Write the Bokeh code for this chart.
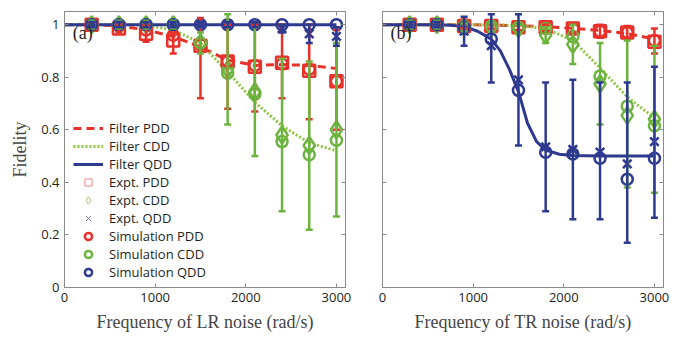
from bokeh.plotting import figure
from bokeh.models import (Whisker, TeeHead, Legend, LegendItem, Label, LinearAxis,
                          FixedTicker, CustomJSTickFormatter, Range1d, ColumnDataSource)
from bokeh.layouts import row
from bokeh.embed import file_html
from bokeh.resources import INLINE

# ---------------- data ----------------
x_expt = [300, 600, 900, 1200, 1500, 1800, 2100, 2400, 2700, 3000]

# panel (a): LR noise
lr_filter_x = [0, 300, 600, 900, 1200, 1500, 1800, 2100, 2400, 2700, 3000]
lr_filter_pdd = [1.0, 1.0, 0.995, 0.98, 0.955, 0.915, 0.865, 0.845, 0.848, 0.845, 0.833]
lr_filter_cdd = [1.0, 1.0, 1.0, 0.998, 0.98, 0.93, 0.82, 0.705, 0.615, 0.55, 0.52]
lr_filter_qdd = [1.0, 1.0, 1.0, 1.0, 1.0, 1.0, 1.0, 1.0, 1.0, 1.0, 1.0]

lr_expt_pdd = [1.0, 0.985, 0.965, 0.94, 0.92, 0.86, 0.84, 0.855, 0.825, 0.785]
lr_expt_pdd_lo = [0.99, 0.97, 0.935, 0.89, 0.72, 0.68, 0.67, 0.72, 0.64, 0.60]
lr_expt_pdd_hi = [1.01, 1.0, 0.995, 0.97, 1.025, 1.0, 1.0, 1.0, 1.0, 0.98]
lr_sim_pdd = [1.0, 0.995, 0.98, 0.96, 0.925, 0.86, 0.845, 0.85, 0.83, 0.785]

lr_expt_cdd = [1.0, 1.0, 1.0, 1.0, 0.93, 0.83, 0.745, 0.58, 0.54, 0.60]
lr_expt_cdd_lo = [0.985, 0.985, 0.985, 0.985, 0.89, 0.62, 0.50, 0.29, 0.22, 0.27]
lr_expt_cdd_hi = [1.015, 1.015, 1.015, 1.015, 0.97, 1.04, 0.99, 0.87, 0.86, 0.93]
lr_sim_cdd = [1.0, 1.0, 1.0, 1.0, 0.93, 0.815, 0.735, 0.555, 0.505, 0.56]

lr_expt_qdd = [1.0, 1.0, 1.0, 1.0, 1.0, 1.0, 1.0, 0.985, 0.965, 0.955]
lr_expt_qdd_lo = [0.99, 0.99, 0.99, 0.99, 0.99, 0.99, 0.99, 0.97, 0.93, 0.92]
lr_expt_qdd_hi = [1.01, 1.01, 1.01, 1.01, 1.01, 1.01, 1.01, 1.0, 1.0, 0.99]
lr_sim_qdd = [1.0, 1.0, 1.0, 1.0, 1.0, 1.0, 1.0, 1.0, 1.0, 1.0]

# panel (b): TR noise
tr_filter_x = [0, 300, 600, 900, 1200, 1500, 1800, 2100, 2400, 2700, 3000]
tr_filter_pdd = [1.0, 1.0, 1.0, 1.0, 0.998, 0.996, 0.992, 0.986, 0.978, 0.966, 0.945]
tr_filter_cdd = [1.0, 1.0, 1.0, 1.0, 0.999, 0.997, 0.985, 0.94, 0.835, 0.725, 0.645]
tr_filter_qdd_x = [0, 300, 600, 750, 900, 1050, 1200, 1300, 1400, 1500, 1600, 1700,
                   1800, 1950, 2100, 2400, 2700, 3000]
tr_filter_qdd = [1.0, 1.0, 1.0, 0.998, 0.993, 0.975, 0.945, 0.9, 0.83, 0.745, 0.625,
                 0.555, 0.523, 0.507, 0.502, 0.5, 0.5, 0.5]

tr_expt_pdd = [1.0, 1.0, 0.995, 0.995, 0.99, 0.99, 0.985, 0.975, 0.97, 0.935]
tr_expt_pdd_lo = [0.99, 0.99, 0.985, 0.985, 0.98, 0.975, 0.97, 0.95, 0.945, 0.89]
tr_expt_pdd_hi = [1.01, 1.01, 1.005, 1.005, 1.0, 1.0, 1.0, 1.0, 0.995, 0.985]
tr_sim_pdd = [1.0, 1.0, 1.0, 0.995, 0.99, 0.99, 0.985, 0.975, 0.97, 0.94]

tr_expt_cdd = [1.0, 1.0, 0.99, 0.99, 0.985, 0.96, 0.925, 0.775, 0.655, 0.64]
tr_expt_cdd_lo = [0.985, 0.985, 0.975, 0.975, 0.97, 0.93, 0.85, 0.62, 0.38, 0.36]
tr_expt_cdd_hi = [1.015, 1.015, 1.005, 1.005, 1.0, 0.99, 1.0, 0.93, 0.94, 0.92]
tr_sim_cdd = [1.0, 1.0, 0.995, 0.995, 0.99, 0.985, 0.955, 0.805, 0.69, 0.615]

tr_expt_qdd = [1.0, 1.0, 0.975, 0.92, 0.79, 0.535, 0.525, 0.515, 0.47, 0.555]
tr_expt_qdd_lo = [0.99, 0.99, 0.92, 0.78, 0.54, 0.29, 0.26, 0.26, 0.17, 0.265]
tr_expt_qdd_hi = [1.01, 1.01, 1.03, 1.04, 1.04, 0.78, 0.79, 0.78, 0.78, 0.84]
tr_sim_qdd = [1.0, 1.0, 0.99, 0.945, 0.75, 0.515, 0.508, 0.492, 0.412, 0.492]

x_ticks = [0, 1000, 2000, 3000]
y_ticks = [0, 0.2, 0.4, 0.6, 0.8, 1]
y_tick_labels = ["0", "0.2", "0.4", "0.6", "0.8", "1"]

legend_labels = ["Filter PDD", "Filter CDD", "Filter QDD", "Expt. PDD", "Expt. CDD",
                 "Expt. QDD", "Simulation PDD", "Simulation CDD", "Simulation QDD"]

# ---------------- style ----------------
RED = "#E8312B"
GREEN = "#6DB33F"
GREEN_F = "#8DC63F"
BLUE = "#2E3A8F"
AX = "#8a8a8a"
TICK_FONT = "Open Sans"
SERIF = "Liberation Serif"
NAN = float("nan")


def style_axis(ax, show_labels=True):
    ax.axis_line_color = AX
    ax.major_tick_line_color = AX
    ax.major_tick_in = 4
    ax.major_tick_out = 0
    ax.minor_tick_line_color = None
    ax.major_label_text_font = TICK_FONT
    ax.major_label_text_font_size = "13px"
    ax.major_label_text_color = "#231f20"
    if not show_labels:
        ax.formatter = CustomJSTickFormatter(code='return ""')
        ax.major_label_text_font_size = "0px"
        ax.major_label_standoff = 0


def make_panel(width, mb_left, mb_right, xlabel, show_ylabels):
    p = figure(width=width, height=334, output_backend="svg", toolbar_location=None,
               x_range=Range1d(0, 3100), y_range=Range1d(0, 1.05),
               min_border_left=mb_left, min_border_right=mb_right,
               min_border_top=11, min_border_bottom=43)
    p.xgrid.visible = False
    p.ygrid.visible = False
    p.outline_line_color = AX
    p.xaxis.ticker = FixedTicker(ticks=x_ticks)
    p.yaxis.ticker = FixedTicker(ticks=y_ticks)
    style_axis(p.xaxis[0])
    style_axis(p.yaxis[0], show_ylabels)
    if show_ylabels:
        p.yaxis.major_label_overrides = {t: s for t, s in zip(y_ticks, y_tick_labels)}
        p.yaxis.axis_label = "Fidelity"
        p.yaxis.axis_label_text_font = SERIF
        p.yaxis.axis_label_text_font_size = "18px"
        p.yaxis.axis_label_text_font_style = "normal"
        p.yaxis.axis_label_standoff = 8
    p.xaxis.axis_label = xlabel
    p.xaxis.axis_label_text_font = SERIF
    p.xaxis.axis_label_text_font_size = "18px"
    p.xaxis.axis_label_text_font_style = "normal"
    p.xaxis.axis_label_standoff = 7
    p.xaxis.major_label_standoff = 5
    top = LinearAxis(ticker=FixedTicker(ticks=x_ticks))
    style_axis(top, False)
    p.add_layout(top, "above")
    right = LinearAxis(ticker=FixedTicker(ticks=y_ticks))
    style_axis(right, False)
    p.add_layout(right, "right")
    return p


def draw(p, fx, fpdd, fcdd, fqx, fqdd, e, sims, legend=False):
    r_fp = p.line(fx, fpdd, line_color=RED, line_width=3, line_dash="8 5")
    r_fc = p.line(fx, fcdd, line_color=GREEN_F, line_width=3, line_dash="2 2")
    r_fq = p.line(fqx, fqdd, line_color=BLUE, line_width=3)
    markers = [("square", 12, RED), ("diamond", 17, GREEN), ("x", 12, BLUE)]
    for (vals, lo, hi), (mk, sz, col) in zip(e, markers):
        src = ColumnDataSource(dict(x=x_expt, y=vals, lo=lo, hi=hi))
        w = Whisker(base="x", lower="lo", upper="hi", source=src, line_color=col,
                    line_width=2.5, level="glyph",
                    upper_head=TeeHead(size=7, line_color=col, line_width=2.5),
                    lower_head=TeeHead(size=7, line_color=col, line_width=2.5))
        p.add_layout(w)
        p.scatter("x", "y", source=src, marker=mk, size=sz, line_color=col,
                  fill_color=None, line_width=2.5)
    sim_rs = []
    for vals, col in zip(sims, [RED, GREEN, BLUE]):
        r = p.scatter(x_expt, vals, marker="circle", size=11, line_color=col,
                      fill_color=None, line_width=2.5)
        sim_rs.append(r)
    if legend:
        # legend-only proxies (not drawn in the plot area)
        prox = [
            p.scatter([NAN], [NAN], marker="square", size=12, line_color="#F2877F", fill_color=None, line_width=1),
            p.scatter([NAN], [NAN], marker="diamond", size=17, line_color="#92C96E", fill_color=None, line_width=1),
            p.scatter([NAN], [NAN], marker="x", size=11, line_color="#7077B2", line_width=1),
        ]
        rs = [r_fp, r_fc, r_fq] + prox + sim_rs
        items = [LegendItem(label=lab, renderers=[r]) for lab, r in zip(legend_labels, rs)]
        lg = Legend(items=items, location=(9, 6), glyph_width=30, glyph_height=18,
                    label_height=18, spacing=0, padding=0, margin=0, label_standoff=6,
                    label_text_font=TICK_FONT, label_text_font_size="13px",
                    label_text_color="#231f20",
                    border_line_alpha=0, background_fill_alpha=0)
        p.add_layout(lg)


pa = make_panel(358, 64, 13, "Frequency of LR noise (rad/s)", True)
draw(pa, lr_filter_x, lr_filter_pdd, lr_filter_cdd, lr_filter_x, lr_filter_qdd,
     [(lr_expt_pdd, lr_expt_pdd_lo, lr_expt_pdd_hi),
      (lr_expt_cdd, lr_expt_cdd_lo, lr_expt_cdd_hi),
      (lr_expt_qdd, lr_expt_qdd_lo, lr_expt_qdd_hi)],
     [lr_sim_pdd, lr_sim_cdd, lr_sim_qdd], legend=True)
pa.add_layout(Label(x=90, y=0.968, text="(a)", text_font=SERIF, text_font_size="18px",
                    text_baseline="middle", text_color="#231f20"))

pb = make_panel(315, 24, 10, "Frequency of TR noise (rad/s)", False)
draw(pb, tr_filter_x, tr_filter_pdd, tr_filter_cdd, tr_filter_qdd_x, tr_filter_qdd,
     [(tr_expt_pdd, tr_expt_pdd_lo, tr_expt_pdd_hi),
      (tr_expt_cdd, tr_expt_cdd_lo, tr_expt_cdd_hi),
      (tr_expt_qdd, tr_expt_qdd_lo, tr_expt_qdd_hi)],
     [tr_sim_pdd, tr_sim_cdd, tr_sim_qdd])
pb.add_layout(Label(x=88, y=0.968, text="(b)", text_font=SERIF, text_font_size="18px",
                    text_baseline="middle", text_color="#231f20"))

layout = row(pa, pb)
open("out.html", "w").write(file_html(layout, INLINE))
